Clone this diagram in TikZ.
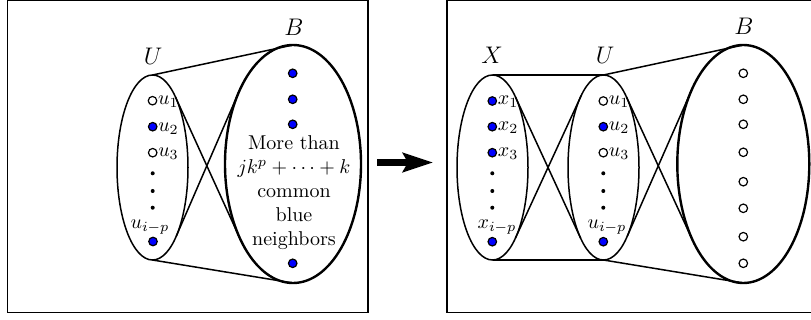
\RequirePackage{fix-cm}
\documentclass[tikz,border=0pt]{standalone}
\usepackage{graphicx}
\usetikzlibrary{shapes.geometric,arrows.meta}
\definecolor{vb}{RGB}{0,0,255}
\newcommand{\dbl}[1]{\scalebox{2}{#1}}
\begin{document}
\begin{tikzpicture}[x=1pt,y=-1pt,
  setE/.style={draw, ellipse, line width=1.5pt, inner sep=0pt, outer sep=0pt,
               minimum width=71pt, minimum height=185pt},
  bigE/.style={draw, ellipse, line width=2.4pt, inner sep=0pt, outer sep=0pt},
  vopen/.style={circle, draw, line width=1.2pt, fill=white, minimum size=8.5pt, inner sep=0pt},
  vblue/.style={vopen, fill=vb},
  vdot/.style={circle, fill=black, minimum size=4pt, inner sep=0pt},
  conn/.style={line width=1.5pt},
  boxline/.style={draw, line width=1.4pt},
  setlabel/.style={anchor=base, inner sep=0pt},
  vlab/.style={anchor=base west, inner sep=0.5pt},
  klab/.style={anchor=base, inner sep=0pt}]
\useasboundingbox (0,0) rectangle (811,320);

% ---------- left panel ----------
\draw[boxline] (7.5,0.5) rectangle (368,312.5);
\node[setE] (U1) at (152.5,167.5) {};
\node[bigE, minimum width=136pt, minimum height=238pt] (B1) at (293,164) {};
\draw[conn] (U1.north) -- (B1.north);
\draw[conn] (U1.south) -- (B1.south);
\draw[conn] (U1.72.1) -- (B1.234.4);
\draw[conn] (U1.-71.3) -- (B1.127);

\node[vopen] (u1) at (152.5,100.7) {};
\node[vblue] (u2) at (152.7,126.7) {};
\node[vopen] (u3) at (152.7,152.7) {};
\node[vdot] (ud1) at (152.7,173.3) {};
\node[vdot] (ud2) at (152.7,191) {};
\node[vdot] (ud3) at (152.7,207.7) {};
\node[vblue] (uk) at (153,241.5) {};
\node[vlab] (lu1) at ([yshift=-3.5pt]u1.east) {\dbl{$u_1$}};
\node[vlab] (lu2) at ([yshift=-4.5pt]u2.east) {\dbl{$u_2$}};
\node[vlab] (lu3) at ([yshift=-4pt]u3.east) {\dbl{$u_3$}};
\node[klab] (luk) at (150,228.5) {\dbl{$u_{i-p}$}};

\node[vblue] (b1) at (292.7,73.3) {};
\node[vblue] (b2) at (292.7,99.3) {};
\node[vblue] (b3) at (292.7,124.3) {};
\node[vblue] (b4) at (292.7,263.3) {};
\node[inner sep=0pt, anchor=base] (btext) at (294,245.7)
  {\dbl{\begin{tabular}[b]{@{}c@{}}More than\\$jk^p+\cdots+k$\\common\\blue\\neighbors\end{tabular}}};

\node[setlabel] (labU1) at (153,65) {\dbl{\large$U$}};
\node[setlabel] (labB1) at (294,36) {\dbl{\large$B$}};

% ---------- arrow ----------
\coordinate (aS) at (377,162.5);
\coordinate (aE) at (433,162.5);
\draw[line width=7pt, -{Stealth[length=30pt,width=19pt,inset=5pt]}] (aS) -- (aE);

% ---------- right panel ----------
\draw[boxline] (447,0.5) rectangle (818,312.5);
\node[setE] (X) at (492.5,167.5) {};
\node[setE] (U2) at (603.5,167.5) {};
\node[bigE, minimum width=132pt, minimum height=238pt] (B2) at (743.3,164) {};
\draw[conn] (X.north) -- (U2.north);
\draw[conn] (X.south) -- (U2.south);
\draw[conn] (X.72.3) -- (U2.252.3);
\draw[conn] (X.-72.3) -- (U2.107.7);
\draw[conn] (U2.north) -- (B2.north);
\draw[conn] (U2.south) -- (B2.south);
\draw[conn] (U2.72.4) -- (B2.237.3);
\draw[conn] (U2.-71.6) -- (B2.123.9);

\node[vblue] (x1) at (492.3,101) {};
\node[vblue] (x2) at (492.3,126.7) {};
\node[vblue] (x3) at (492.3,152.7) {};
\node[vdot] (xd1) at (492.3,173.3) {};
\node[vdot] (xd2) at (492.3,191) {};
\node[vdot] (xd3) at (492.3,207.7) {};
\node[vblue] (xk) at (492.3,241.7) {};
\node[vlab] (lx1) at ([yshift=-4pt]x1.east) {\dbl{$x_1$}};
\node[vlab] (lx2) at ([yshift=-4pt]x2.east) {\dbl{$x_2$}};
\node[vlab] (lx3) at ([yshift=-4pt]x3.east) {\dbl{$x_3$}};
\node[klab] (lxk) at (497,229) {\dbl{$x_{i-p}$}};

\node[vopen] (v1) at (603.3,101) {};
\node[vblue] (v2) at (603.3,126.7) {};
\node[vopen] (v3) at (603.3,152.7) {};
\node[vdot] (vd1) at (603.3,173.3) {};
\node[vdot] (vd2) at (603.3,191) {};
\node[vdot] (vd3) at (603.3,207.7) {};
\node[vblue] (vk) at (603.3,241.7) {};
\node[vlab] (lv1) at ([yshift=-4pt]v1.east) {\dbl{$u_1$}};
\node[vlab] (lv2) at ([yshift=-4pt]v2.east) {\dbl{$u_2$}};
\node[vlab] (lv3) at ([yshift=-4pt]v3.east) {\dbl{$u_3$}};
\node[klab] (lvk) at (607,229) {\dbl{$u_{i-p}$}};

\foreach \n/\yy in {1/73.3,2/99.3,3/124.3,4/152.3,5/181.7,6/208.3,7/236.7,8/263.3}
  \node[vopen] (c\n) at (743.3,\yy) {};

\node[setlabel] (labX) at (492,64) {\dbl{\large$X$}};
\node[setlabel] (labU2) at (605,64) {\dbl{\large$U$}};
\node[setlabel] (labB2) at (744,35) {\dbl{\large$B$}};
\end{tikzpicture}
\end{document}
